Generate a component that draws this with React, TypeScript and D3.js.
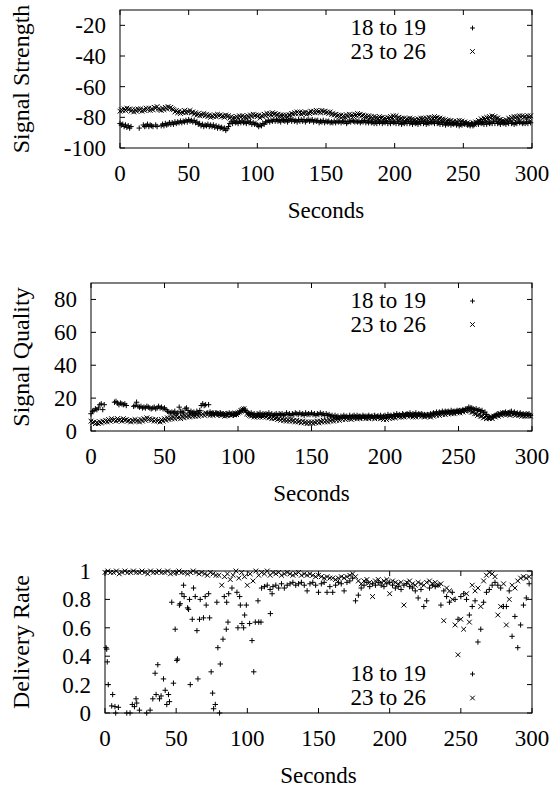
import React from "react";
import * as d3 from "d3";

// ---------- data ----------
const xTicks = [0, 50, 100, 150, 200, 250, 300];
const seriesNames = ["18 to 19", "23 to 26"];

// sampling grids (seconds)
const everySecond = d3.range(0, 300, 1);
const everyTwoSeconds = d3.range(0, 300, 2);

// Panel 1: Signal Strength (one sample per second)
const strengthTicks = [-100, -80, -60, -40, -20];
const strength1819: (number | null)[] = [
  -84, -85, -84.5, -86, -85, -86.5, -85.5, -87, -86, null, null, null, null, null, -87, null, null, -85, -86, -85.5,
  -84.5, -86, -85, -85.5, -86, null, -85, -86, null, null, -85.5, -84.5, -85.5, -84, -85, -84.5, -83.5, -84.5, -83.5, -84.5,
  -83, -84, -83, -83.5, -82.5, -83.5, -82.5, -83, -82, -83, -81.5, -82.5, -82, -83, -82, -83.5, -83, -84.5, -84, -85.5,
  -84.5, -86, -85, -85.5, -84.5, -86, -85, -86, -85, -86.5, -85.5, -87, -86, -87, -86.5, -87.5, -87, -88.5, -87.5, -86,
  -84, -83, -84, -82.5, -83.5, -83, -84, -82.5, -83.5, -82.5, -83.5, -83, -84, -82.5, -83.5, -83, -84.5, -83.5, -84.5, -84,
  -85, -86, -85, -85.5, -84, -84.5, -83, -83, -82, -83, -82, -82.5, -81.5, -82.5, -81.5, -82.5, -82, -83, -81.5, -82,
  -82.5, -81.5, -83, -82, -81, -82.5, -81.5, -82.5, -82, -83, -81.5, -82.5, -81.5, -82.5, -81.5, -83, -82, -81.5, -82.5, -82,
  -81.5, -83, -82, -82.5, -82, -83.5, -82.5, -83, -82, -83.5, -82.5, -83, -82.5, -83.5, -83, -83.5, -82.5, -83.5, -82.5, -83,
  -82.5, -83.5, -82.5, -83, -82.5, -84, -83, -82.5, -83, -82, -82.5, -83, -82.5, -83, -82.5, -83.5, -82.5, -83, -82, -83.5,
  -82.5, -83.5, -82.5, -83.5, -83, -84, -83, -84, -82.5, -83.5, -82.5, -84, -83, -83.5, -82.5, -84, -83, -84, -82.5, -83.5,
  -83, -84, -82.5, -84, -83, -84.5, -83.5, -84, -83, -84, -82.5, -84, -83, -84.5, -83, -84, -83.5, -84.5, -83, -84,
  -82.5, -84, -83, -84.5, -83.5, -84, -83, -83.5, -83, -84, -82.5, -84, -83.5, -84.5, -83, -84.5, -83.5, -85, -84, -84.5,
  -83.5, -85, -84, -84.5, -83.5, -85, -84, -85.5, -84.5, -85, -84, -84.5, -83.5, -85, -84.5, -85.5, -84, -85.5, -84.5, -84,
  -83.5, -84.5, -83, -84, -83.5, -84.5, -83, -84.5, -83, -84, -83.5, -84, -82.5, -84, -82.5, -84, -83.5, -84.5, -83, -84,
  -83.5, -84.5, -83, -84, -82.5, -84, -83.5, -84.5, -83.5, -84, -82.5, -83.5, -83, -84, -83.5, -84, -83, -84, -82.5, -83.5,
];
const strength2326: (number | null)[] = [
  -76, -75, -75.5, -74.5, -75.5, -74, -75, -74.5, -76, -75, -76.5, -75, -76, -74.5, -75.5, -74.5, -76, -75, -75.5, -74,
  -75, -74, -75.5, -74.5, -75, -73.5, -74, -73, -74.5, -75, -75.5, -74, -75, -73.5, -74.5, -73, -74, -73.5, -74.5, -75,
  -76.5, -75.5, -77, -76, -77.5, -76.5, -77, -75.5, -77, -76, -76.5, -75.5, -77, -76.5, -78, -77, -78.5, -77.5, -79, -78,
  -78.5, -77.5, -79, -78, -79.5, -78.5, -80, -79, -79.5, -78.5, -79.5, -78, -79, -78.5, -79.5, -79, -80, -78.5, -79.5, -79,
  -80.5, -79.5, -81, -80, -80.5, -79.5, -80.5, -79, -80, -79, -80, -79.5, -80.5, -79, -80, -78.5, -79.5, -78, -79, -78.5,
  -79.5, -78.5, -80.5, -79, -79.5, -78, -79, -77.5, -78.5, -77.5, -78.5, -77, -78, -77.5, -78.5, -78, -79.5, -78.5, -79, -78.5,
  -79.5, -78.5, -80, -78.5, -78.5, -77.5, -78, -77, -77.5, -76.5, -77.5, -76.5, -78, -77, -77.5, -76.5, -78, -77, -77.5, -76,
  -77, -76, -77, -75.5, -76.5, -76, -77, -75.5, -76.5, -76, -77, -76.5, -77.5, -76.5, -78, -77.5, -78.5, -78, -79, -78.5,
  -79.5, -78.5, -79.5, -79, -80, -78.5, -79.5, -78, -79, -78.5, -79.5, -78, -79, -77.5, -78.5, -78, -79, -78.5, -79.5, -79,
  -80, -79, -80.5, -79.5, -81, -79.5, -80.5, -80, -81, -79.5, -80.5, -80, -81, -80.5, -81.5, -80, -81, -79.5, -80.5, -79,
  -80, -79, -80.5, -80, -81, -80.5, -81.5, -80.5, -81.5, -81, -82, -80.5, -81.5, -81, -82, -81.5, -82.5, -81, -82, -80.5,
  -81.5, -80.5, -82, -80.5, -81.5, -80, -81, -80, -81, -79.5, -80.5, -80, -81, -80.5, -81.5, -81, -82, -81.5, -82.5, -82,
  -83, -82, -83.5, -82.5, -84, -82.5, -83.5, -82, -83, -82.5, -83.5, -83, -84, -83.5, -84.5, -84, -85, -83.5, -84.5, -83,
  -83.5, -82, -82.5, -81, -82, -80.5, -81.5, -80, -81, -79.5, -80.5, -79, -80, -79.5, -80.5, -80.5, -81.5, -81.5, -82.5, -82,
  -83, -81.5, -82.5, -80.5, -81.5, -80, -81, -79.5, -80.5, -79.5, -80.5, -79, -80, -79, -80, -79.5, -80.5, -79, -80, -79,
];

// Panel 2: Signal Quality (one sample per second)
const qualityTicks = [0, 20, 40, 60, 80];
const quality1819: (number | null)[] = [
  10.5, 12, 12.5, 13.5, 13, 14, 16, 16.5, 13, 16, null, null, null, null, null, null, 17.5, 18, 17, 16,
  17, 16.5, 16, 16.5, 15.5, null, null, null, null, 15, 15.5, 17.5, 15, 14.5, 15, 14, 14.5, 14, 15, 14.5,
  14, 13.5, 14, 14.5, 13.5, 14, 15, 14, 14.5, 13.5, 14, 13, 12, 11.5, 11, 11.5, 11, 12, 10.5, 11,
  14.5, 12, 11.5, 11, 13.5, 14, 12.5, 11, 12, 11, 11.5, 10.5, 12, 11, 12.5, 15.5, 16.5, 15.5, 16, 11,
  16, 11.5, 10.5, 11, 10, 11, 10.5, 9.5, 11, 10, 10.5, 9.5, 10.5, 10, 11, 10, 10.5, 9.5, 10.5, 10,
  11, 11.5, 12, 12.5, 13.5, 12.5, 11.5, 11, 10.5, 11, 10, 10.5, 9.5, 10.5, 10, 11, 9.5, 10.5, 10, 10.5,
  10, 11, 9.5, 10.5, 9.5, 10, 10.5, 9.5, 10.5, 10, 10.5, 9.5, 10, 11, 10, 10.5, 9.5, 10.5, 10, 11,
  10.5, 10, 11, 10, 10.5, 9.5, 11, 10, 10.5, 10, 11, 10, 10.5, 9.5, 10.5, 10, 11, 10, 10.5, 9.5,
  10.5, 9.5, 10, 9, 9.5, 8.5, 9.5, 8.5, 9, 8, 9, 8.5, 9.5, 8.5, 9, 8, 9.5, 8.5, 9, 9.5,
  8.5, 9.5, 8.5, 9, 8, 9.5, 8.5, 9, 8.5, 9.5, 8.5, 9, 8, 9.5, 8.5, 9, 8.5, 9.5, 8.5, 9,
  9.5, 8.5, 10, 9, 9.5, 8.5, 10, 9, 10.5, 9.5, 10, 9, 10.5, 9.5, 10, 10.5, 10, 11, 9.5, 10.5,
  10, 11, 9.5, 10.5, 10, 10.5, 9, 10, 9.5, 10, 9, 10.5, 10, 11, 10.5, 11.5, 10.5, 11.5, 11, 12,
  11, 12, 11.5, 12, 11, 12.5, 11.5, 12, 11.5, 12.5, 12, 12.5, 12, 13, 12.5, 13.5, 13.5, 14.5, 14, 14,
  13.5, 13, 13.5, 12.5, 13, 12, 12.5, 11, 11.5, 10, 9, 8.5, 8, 8.5, 9, 9.5, 10, 10.5, 10, 10.5,
  11, 10.5, 11.5, 10.5, 11, 11.5, 12, 10.5, 11.5, 10.5, 11, 10, 11, 10, 10.5, 9.5, 10.5, 10, 10.5, 9.5,
];
const quality2326: (number | null)[] = [
  6, 5, 5.5, 4.5, 5, 4.5, 5.5, 5, 6, 5.5, 6.5, 5.5, 7, 6, 7.5, 6.5, 7, 6, 7.5, 6.5,
  7, 6, 7.5, 6.5, 7, 6, 6.5, 5.5, 6.5, 6, 7, 6, 6.5, 5.5, 7, 6, 7.5, 6.5, 8, 7,
  7.5, 6.5, 7, 6, 7, 6, 6.5, 5.5, 7, 6, 7.5, 6.5, 8, 7, 8, 7.5, 8.5, 7.5, 9, 8,
  8.5, 7.5, 9, 8, 9.5, 8.5, 9.5, 8.5, 10, 9, 9.5, 9, 10, 9, 10.5, 9.5, 10.5, 9.5, 11, 10,
  10.5, 9.5, 10.5, 9.5, 11, 10, 11, 10, 10.5, 9.5, 10.5, 9, 10, 9.5, 10.5, 9.5, 10.5, 10, 11, 10,
  11, 11.5, 12.5, 13, 13.5, 12, 10.5, 10, 9.5, 9, 9.5, 8.5, 9.5, 8.5, 9, 8.5, 9.5, 8.5, 9.5, 8.5,
  9, 8, 8.5, 7.5, 8.5, 7.5, 8, 7, 7.5, 6.5, 7.5, 6.5, 7, 6, 7, 6, 7, 6, 6.5, 5.5,
  6.5, 5.5, 6, 5, 6, 5, 5.5, 4.5, 5.5, 4.5, 5.5, 4.5, 5.5, 5, 6, 5, 6, 5.5, 6.5, 5.5,
  6.5, 5.5, 7, 6, 7, 6, 7.5, 6.5, 7.5, 6.5, 8, 7, 8, 7, 8.5, 7.5, 8, 7, 8.5, 7.5,
  8.5, 7.5, 8.5, 7.5, 9, 8, 8.5, 7.5, 8.5, 7.5, 9, 8, 8.5, 7.5, 9, 8, 8.5, 7.5, 8, 7,
  8, 7, 8.5, 7.5, 9, 8, 9, 8, 9.5, 8.5, 9.5, 8.5, 9.5, 8.5, 10, 9, 10, 9, 9.5, 8.5,
  9.5, 8.5, 10, 9, 10, 9, 9.5, 8.5, 10, 9, 9.5, 8.5, 10, 9, 10.5, 9.5, 10.5, 9.5, 11, 10,
  11, 10, 11.5, 10.5, 11.5, 10.5, 11.5, 10.5, 12, 11, 12, 11, 12.5, 11.5, 12.5, 12, 13, 12.5, 12.5, 11.5,
  11.5, 10.5, 10.5, 9.5, 10, 9, 9, 8, 8.5, 7.5, 8, 7.5, 8.5, 7.5, 9, 8.5, 9.5, 9, 10.5, 9.5,
  11, 10, 11, 10, 10.5, 9.5, 11, 10, 10.5, 9.5, 10.5, 9.5, 10, 9, 10, 9, 10, 9, 9.5, 9,
];

// Panel 3: Delivery Rate
const deliveryTicks = [0, 0.2, 0.4, 0.6, 0.8, 1];
const delivery2326: (number | null)[] = [
  0.99, 1, 0.99, 0.99, 1, 0.98, 0.99, 1, 0.99, 0.99,
  1, 0.99, 0.99, 1, 0.99, 0.98, 1, 0.99, 0.99, 1,
  0.99, 0.99, 1, 0.98, 0.99, 0.99, 1, 0.99, 0.99, 0.98,
  0.99, 1, 0.99, 0.98, 0.99, 0.98, 0.97, 0.99, 0.98, 0.97,
  0.97, 0.9, 0.96, 0.98, 0.94, 0.97, 1, 0.95, 0.99, 0.96,
  0.9, 0.98, 0.93, 1, 0.97, 0.99, 0.98, 1, 0.97, 0.99,
  0.98, 0.99, 0.97, 0.98, 0.99, 0.98, 0.97, 0.98, 0.99, 0.97,
  0.98, 0.97, 0.98, 0.97, 0.96, 0.97, 0.96, 0.95, 0.96, 0.95,
  0.95, 0.94, 0.95, 0.96, 0.95, 0.96, 0.97, 0.98, 0.96, 0.93,
  0.91, 0.93, 0.94, 0.92, 0.82, 0.93, 0.94, 0.92, 0.93, 0.94,
  0.84, 0.93, 0.92, 0.91, 0.92, 0.76, 0.92, 0.93, 0.91, 0.9,
  0.92, 0.91, 0.9, 0.92, 0.93, 0.91, 0.92, 0.9, 0.91, 0.65,
  0.88, 0.86, 0.8, 0.62, 0.41, 0.66, 0.59, 0.84, 0.64, 0.9,
  0.86, 0.88, 0.75, 0.93, 0.97, 0.99, 0.98, 0.96, 0.69, 0.75,
  0.91, 0.62, 0.8, 0.9, 0.88, 0.93, 0.95, 0.96, 0.95, 0.96,
];
// "18 to 19": scattered early samples (seconds, rate)
const delivery1819EarlySec = [
  0.7, 1.2, 1.6, 2.3, 4.7, 5.4, 7, 7.5, 9.4, 15.3, 17.6, 19.2, 20.7, 21.8, 22.3,
  24.2, 29.3, 31.7, 33.6, 35.2, 35.9, 37.1, 38.3, 39.4, 41.1, 42.3, 43.4, 44.6,
  45.3, 46.9, 48.1, 49.3, 50.5, 50.9, 52.3, 52.8, 54, 55.2, 55.6, 58, 58.7, 59.4,
  59.9, 61.3, 62.2, 63.4, 64.6, 65.3, 66.4, 66.9, 69.2, 70.4, 71.1, 72.8, 73.5,
  74.6, 75.6, 76.3, 77.5, 78.6, 79.3, 80.5, 81, 82.9, 83.8, 85.2, 85.5, 86.4,
  86.9, 89.2, 92.7, 93.4, 94.6, 95.1, 96.2, 97.4, 98.1, 99.3, 101.6, 103.3,
  104.5, 105.6, 107.5, 108, 109.6, 116.2, 117.4,
];
const delivery1819Early = [
  0.46, 0.45, 0.36, 0.2, 0.05, 0.13, 0.045, 0.0, 0.04, 0, 0, 0.06, 0.045, 0.1, 0.07,
  0.02, 0, 0.02, 0.1, 0.28, 0.13, 0.34, 0.1, 0.12, 0.24, 0.16, 0.06, 0.13,
  0.08, 0.78, 0.21, 0.59, 0.37, 0.38, 0.76, 0.77, 0.84, 0.9, 0.82, 0.74, 0.73, 0.8,
  0.2, 0.66, 0.88, 0.82, 0.58, 0.24, 0.66, 0.8, 0.67, 0.82, 0.76, 0.84, 0.67,
  0.29, 0.14, 0.03, 0.06, 0.78, 0.46, 0.0, 0.345, 0.52, 0.82, 0.59, 0.78, 0.64,
  0.84, 0.88, 0.85, 0.6, 0.82, 0.76, 0.63, 0.6, 0.69, 0.76, 0.63, 0.51,
  0.29, 0.64, 0.79, 0.64, 0.64, 0.7, 0.84,
];
const delivery1819LateSec = d3.range(110, 300, 2);
const delivery1819Late = [
  0.88, 0.89, 0.9, 0.87, 0.89, 0.9, 0.88, 0.91, 0.88, 0.9,
  0.91, 0.92, 0.9, 0.91, 0.92, 0.9, 0.86, 0.91, 0.92, 0.9,
  0.85, 0.91, 0.92, 0.85, 0.89, 0.85, 0.9, 0.92, 0.91, 0.86,
  0.92, 0.93, 0.95, 0.79, 0.83, 0.88, 0.9, 0.92, 0.89, 0.91,
  0.9, 0.92, 0.9, 0.89, 0.91, 0.92, 0.9, 0.88, 0.89, 0.87,
  0.9, 0.91, 0.89, 0.88, 0.86, 0.81, 0.87, 0.75, 0.79, 0.88,
  0.9, 0.89, 0.9, 0.76, 0.86, 0.82, 0.78, 0.85, 0.8, 0.66,
  0.82, 0.84, 0.8, 0.69, 0.75, 0.79, 0.5, 0.59, 0.78, 0.85,
  0.87, 0.9, 0.92, 0.9, 0.88, 0.75, 0.75, 0.86, 0.54, 0.68,
  0.46, 0.62, 0.76, 0.81, 0.91,
];

// ---------- drawing ----------
const FONT = "Liberation Serif";
const FS = 23;
const INK = "#000";
const textStyle: React.CSSProperties = { fontFamily: FONT, fontSize: FS };

type Shape = "plus" | "cross";
interface Series {
  shape: Shape;
  t: number[];
  v: (number | null)[];
}

function glyph(shape: Shape, x: number, y: number, big = true): string {
  if (shape === "plus") {
    const s = big ? 2.7 : 2.4;
    return `M${x - s},${y}H${x + s}M${x},${y - s}V${y + s}`;
  }
  const s = big ? 2.4 : 2.3;
  return `M${x - s},${y - s}L${x + s},${y + s}M${x - s},${y + s}L${x + s},${y - s}`;
}

interface PanelProps {
  left: number;
  right: number;
  top: number;
  bottom: number;
  domain: [number, number];
  yTicks: number[];
  ylabel: string;
  series: Series[];
  legendTop: boolean;
}

function Panel(p: PanelProps) {
  const x = d3.scaleLinear().domain([0, 300]).range([p.left, p.right]);
  const y = d3.scaleLinear().domain(p.domain).range([p.bottom, p.top]);
  const tl = 5;
  const fmt = (d: number) => String(d);
  const legendY = p.legendTop
    ? [p.top + 25, p.top + 48.5]
    : [p.bottom - 32, p.bottom - 8];
  const cy = (p.top + p.bottom) / 2;
  const cx = (p.left + p.right) / 2;

  return (
    <g>
      {p.series.map((s, i) => {
        let d = "";
        s.t.forEach((t, k) => {
          const v = s.v[k];
          if (v === null || v === undefined) return;
          d += glyph(s.shape, x(t), y(v));
        });
        return (
          <path key={i} d={d} fill="none" stroke={INK} strokeWidth={1} />
        );
      })}
      <rect
        x={p.left}
        y={p.top}
        width={p.right - p.left}
        height={p.bottom - p.top}
        fill="none"
        stroke={INK}
        strokeWidth={1}
      />
      {xTicks.map((t) => (
        <g key={"x" + t}>
          <line x1={x(t)} x2={x(t)} y1={p.bottom} y2={p.bottom - tl} stroke={INK} />
          <line x1={x(t)} x2={x(t)} y1={p.top} y2={p.top + tl} stroke={INK} />
          <text x={x(t)} y={p.bottom + 33} textAnchor="middle" style={textStyle}>
            {fmt(t)}
          </text>
        </g>
      ))}
      {p.yTicks.map((v) => (
        <g key={"y" + v}>
          <line x1={p.left} x2={p.left + tl} y1={y(v)} y2={y(v)} stroke={INK} />
          <line x1={p.right} x2={p.right - tl} y1={y(v)} y2={y(v)} stroke={INK} />
          <text x={p.left - 14} y={y(v) + 8} textAnchor="end" style={textStyle}>
            {fmt(v)}
          </text>
        </g>
      ))}
      <text x={cx} y={p.bottom + 70} textAnchor="middle" style={textStyle}>
        Seconds
      </text>
      <text
        transform={`translate(29,${cy}) rotate(-90)`}
        textAnchor="middle"
        style={{ fontFamily: FONT, fontSize: 24 }}
      >
        {p.ylabel}
      </text>
      {p.series.map((s, i) => (
        <g key={"l" + i}>
          <text x={426} y={legendY[i]} textAnchor="end" style={textStyle}>
            {seriesNames[i]}
          </text>
          <path
            d={glyph(s.shape, 472.5, legendY[i] - 7, false)}
            fill="none"
            stroke={INK}
            strokeWidth={1}
          />
        </g>
      ))}
    </g>
  );
}

export default function App() {
  const delivery1819Sec = [...delivery1819EarlySec, ...delivery1819LateSec];
  const delivery1819 = [...delivery1819Early, ...delivery1819Late];
  return (
    <svg
      width={555}
      height={787}
      viewBox="0 0 555 787"
      style={{ position: "absolute", left: 0, top: 0, background: "#fff" }}
    >
      <rect width={555} height={787} fill="#fff" />
      <Panel
        left={120}
        right={532}
        top={10}
        bottom={148}
        domain={[-100, -10]}
        yTicks={strengthTicks}
        ylabel="Signal Strength"
        legendTop={true}
        series={[
          { shape: "plus", t: everySecond, v: strength1819 },
          { shape: "cross", t: everySecond, v: strength2326 },
        ]}
      />
      <Panel
        left={91}
        right={532}
        top={283}
        bottom={431}
        domain={[0, 90]}
        yTicks={qualityTicks}
        ylabel="Signal Quality"
        legendTop={true}
        series={[
          { shape: "plus", t: everySecond, v: quality1819 },
          { shape: "cross", t: everySecond, v: quality2326 },
        ]}
      />
      <Panel
        left={105}
        right={532}
        top={571}
        bottom={713}
        domain={[0, 1]}
        yTicks={deliveryTicks}
        ylabel="Delivery Rate"
        legendTop={false}
        series={[
          { shape: "plus", t: delivery1819Sec, v: delivery1819 },
          { shape: "cross", t: everyTwoSeconds, v: delivery2326 },
        ]}
      />
    </svg>
  );
}
